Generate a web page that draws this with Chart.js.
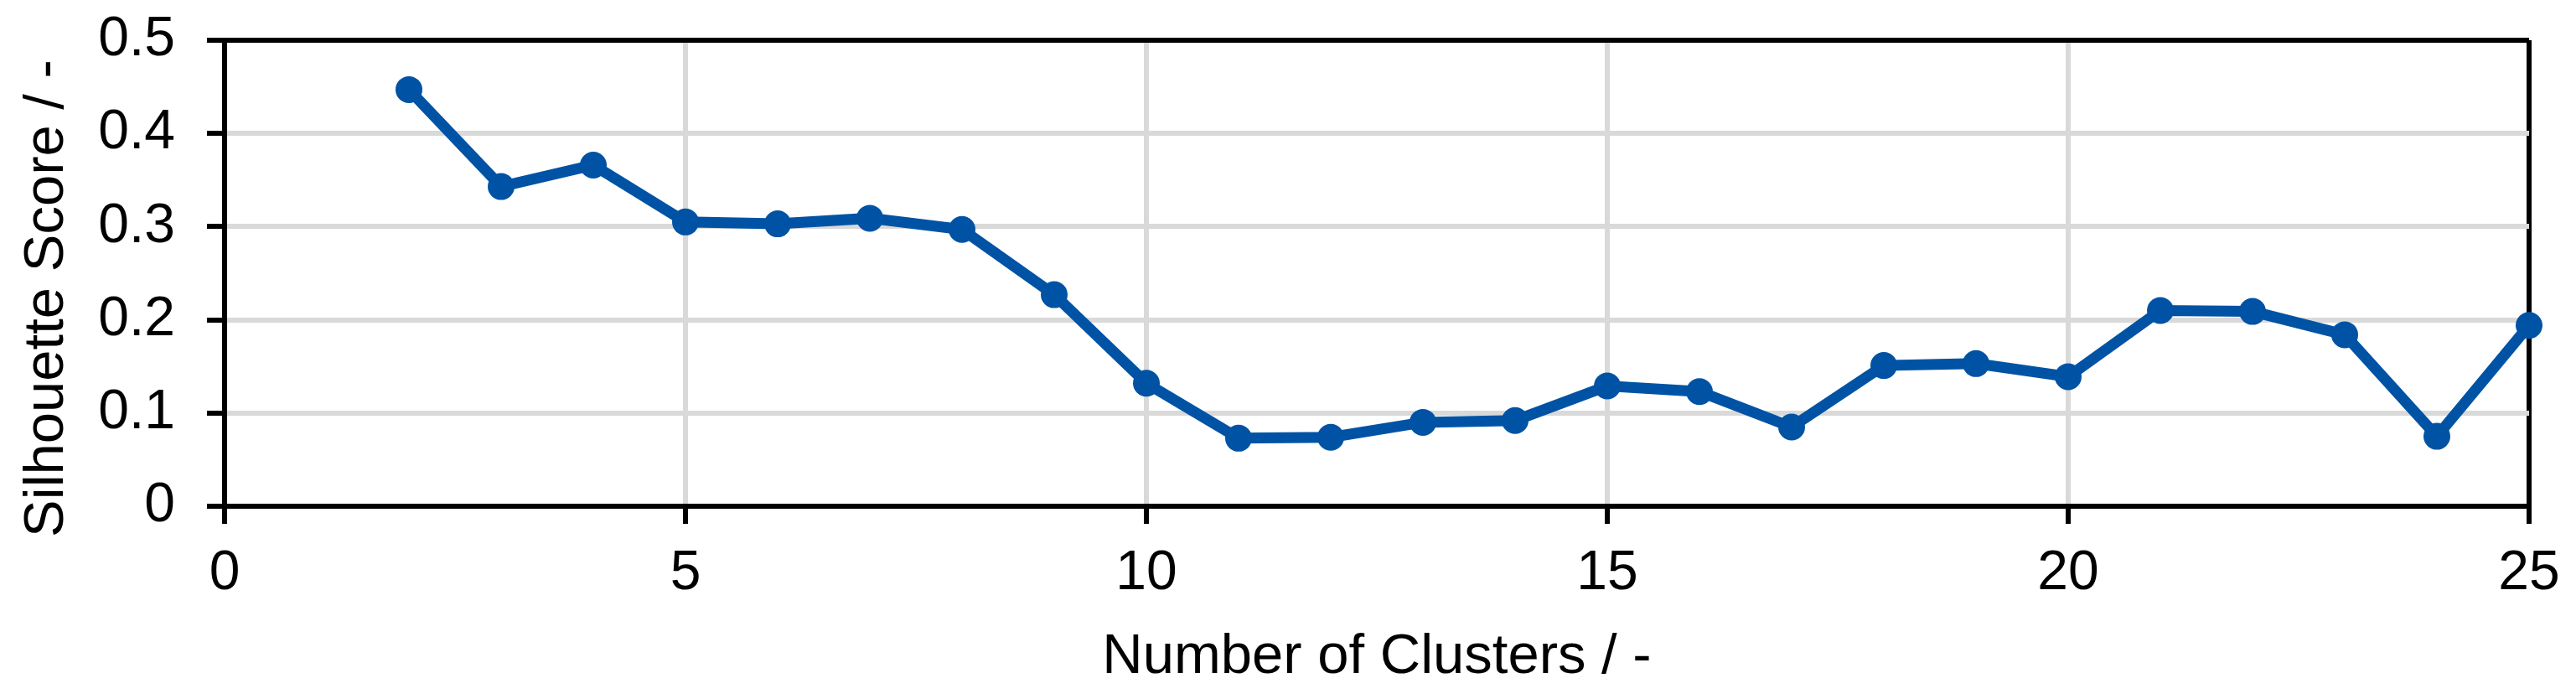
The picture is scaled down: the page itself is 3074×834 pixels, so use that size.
<!DOCTYPE html>
<html>
<head>
<meta charset="utf-8">
<script src="https://cdn.jsdelivr.net/npm/chart.js@4"></script>
<style>
  html, body { margin: 0; padding: 0; background: #fff; }
  #wrap { width: 3074px; height: 834px; }
</style>
</head>
<body>
<div id="wrap"><canvas id="chart" width="3074" height="834"></canvas></div>
<script>
// data
const clusters = [2, 3, 4, 5, 6, 7, 8, 9, 10, 11, 12, 13, 14, 15, 16, 17, 18, 19, 20, 21, 22, 23, 24, 25];
const scores = [0.447, 0.343, 0.366, 0.305, 0.303, 0.309, 0.297, 0.227, 0.132, 0.073, 0.074, 0.090,
                0.092, 0.129, 0.123, 0.085, 0.151, 0.153, 0.139, 0.210, 0.209, 0.184, 0.075, 0.194];
const xTicks = [0, 5, 10, 15, 20, 25];
const yTicks = [0, 0.1, 0.2, 0.3, 0.4, 0.5];
const xTitle = "Number of Clusters / -";
const yTitle = "Silhouette Score / -";

const font = '"Liberation Sans", Arial, sans-serif';
const blue = "#0053A4", gridGrey = "#d9d9d9";
const isLast = (v, arr) => Math.abs(v - arr[arr.length - 1]) < 1e-9;

// y title drawn by hand: the reference sits it a bit below the plot centre
const yTitlePlugin = {
  id: "yTitle",
  afterDraw(chart) {
    const { ctx, chartArea } = chart;
    ctx.save();
    ctx.translate(57, (chartArea.top + chartArea.bottom) / 2 + 30);
    ctx.rotate(-Math.PI / 2);
    ctx.font = "67px " + font;
    ctx.fillStyle = "#000";
    ctx.textAlign = "center";
    ctx.textBaseline = "middle";
    ctx.fillText(yTitle, 0, 0);
    ctx.restore();
  },
};

new Chart(document.getElementById("chart"), {
  type: "line",
  data: {
    datasets: [{
      data: clusters.map((c, i) => ({ x: c, y: scores[i] })),
      borderColor: blue, backgroundColor: blue,
      borderWidth: 13,
      pointRadius: 16, pointBorderWidth: 0, pointBackgroundColor: blue,
      tension: 0, clip: false,
    }],
  },
  options: {
    responsive: false,
    animation: false,
    events: [],
    layout: { padding: { top: 48, right: 56, left: 0, bottom: 0 } },
    plugins: { legend: { display: false }, tooltip: { enabled: false } },
    scales: {
      x: {
        type: "linear", min: xTicks[0], max: xTicks[xTicks.length - 1],
        afterBuildTicks: (s) => { s.ticks = xTicks.map((v) => ({ value: v })); },
        afterFit: (s) => { s.height = 230; s.paddingLeft = 0; s.paddingRight = 0; },
        border: { color: "#000", width: 6 },
        grid: {
          color: (c) => (c.tick && isLast(c.tick.value, xTicks) ? "#000" : gridGrey),
          lineWidth: 6,
          tickColor: "#000", tickWidth: 6, tickLength: 21,
        },
        ticks: { color: "#000", font: { family: font, size: 66 }, padding: 20, maxRotation: 0 },
        title: { display: true, text: xTitle, color: "#000", font: { family: font, size: 67 }, padding: { top: 0, bottom: 9 } },
      },
      y: {
        type: "linear", min: yTicks[0], max: yTicks[yTicks.length - 1],
        afterBuildTicks: (s) => { s.ticks = yTicks.map((v) => ({ value: v })); },
        afterFit: (s) => { s.width = 268; s.paddingTop = 0; s.paddingBottom = 0; },
        border: { color: "#000", width: 6 },
        grid: {
          color: (c) => (c.tick && isLast(c.tick.value, yTicks) ? "#000" : gridGrey),
          lineWidth: 6,
          tickColor: "#000", tickWidth: 6, tickLength: 21,
        },
        ticks: { color: "#000", font: { family: font, size: 66 }, padding: 38, callback: (v) => String(v) },
      },
    },
  },
  plugins: [yTitlePlugin],
});
</script>
</body>
</html>
